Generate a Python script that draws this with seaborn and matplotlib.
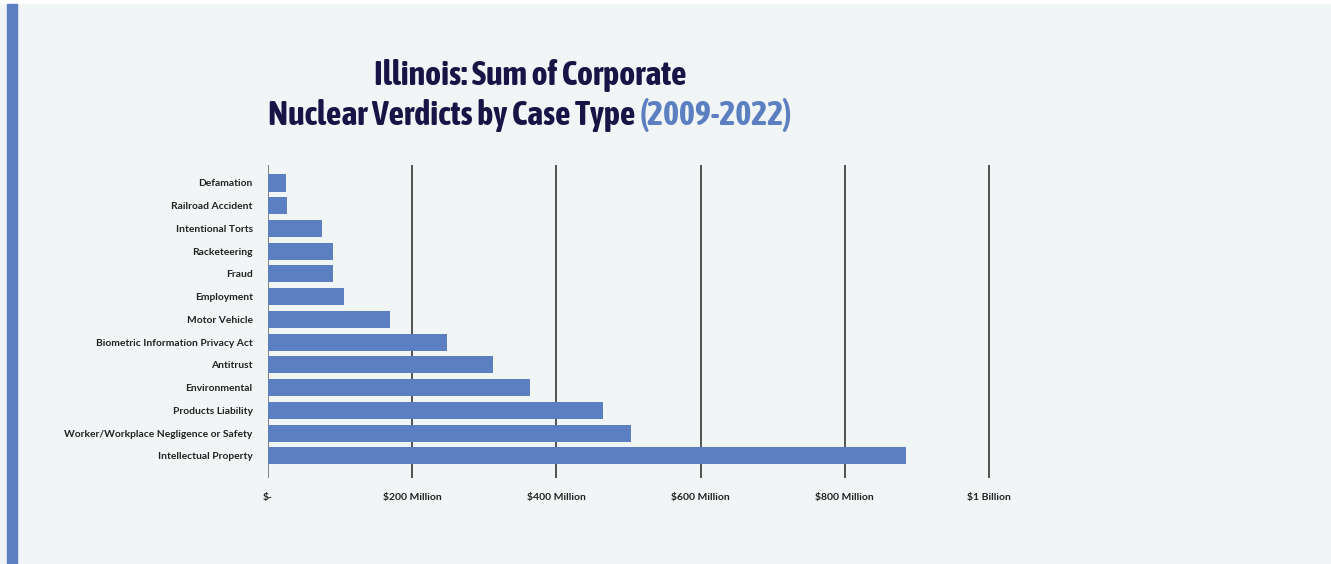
import matplotlib
matplotlib.use("Agg")
import matplotlib.pyplot as plt
from matplotlib.patches import Rectangle
from matplotlib import font_manager
import seaborn as sns
import pandas as pd

categories = [
    "Defamation", "Railroad Accident", "Intentional Torts", "Racketeering",
    "Fraud", "Employment", "Motor Vehicle", "Biometric Information Privacy Act",
    "Antitrust", "Environmental", "Products Liability",
    "Worker/Workplace Negligence or Safety", "Intellectual Property",
]
verdicts_millions = [25, 26, 75, 90, 90, 105, 169, 248, 312, 363, 465, 503, 885]
tick_values = [0, 200, 400, 600, 800, 1000]
tick_labels = ["$-", "$200 Million", "$400 Million", "$600 Million", "$800 Million", "$1 Billion"]

BG = "#f1f5f6"
BLUE = "#5b7fc1"
NAVY = "#1a1446"

sns.set_theme(style="white")
plt.rcParams["font.family"] = ["Lato", "DejaVu Sans"]

# prefer a condensed face for the headline
condensed = [f for f in font_manager.fontManager.ttflist
             if f.stretch in ("condensed", "semi-condensed", "extra-condensed", "ultra-condensed")
             or "Narrow" in f.name or "Condensed" in f.name]
if condensed:
    pick = sorted(condensed, key=lambda f: (f.weight not in ("bold", 700), f.name))[0]
    title_font = dict(family=pick.name, stretch=pick.stretch)
else:
    title_font = dict(family="Roboto")

W, H = 1331, 564
fig = plt.figure(figsize=(W / 100, H / 100), dpi=100)
fig.patch.set_facecolor("white")

# page background, white top strip, blue accent bar on the left
fig.patches.append(Rectangle((0, 0), 1, 1 - 4 / H, transform=fig.transFigure, color=BG, zorder=-10))
fig.patches.append(Rectangle((7 / W, 0), 10 / W, 1 - 4 / H, transform=fig.transFigure, color=BLUE, zorder=-9))

px_per_unit = (989 - 268) / 1000
x_right = 1010
ax = fig.add_axes([268 / W, 1 - 478 / H, x_right * px_per_unit / W, (478 - 165) / H])
ax.set_facecolor("none")

df = pd.DataFrame({"case": categories, "value": verdicts_millions})
sns.barplot(data=df, x="value", y="case", orient="h", color=BLUE, saturation=1,
            width=0.75, linewidth=0, ax=ax, zorder=3)

ax.set_xlim(0, x_right)
ax.set_ylim(12.97, -0.79)
for v in tick_values:
    ax.axvline(v, color="#444444" if v else "#777777", lw=1.3, zorder=1)

for s in ax.spines.values():
    s.set_visible(False)

ax.set_xticks(tick_values)
ax.set_xticklabels(tick_labels, fontsize=7.5, fontweight="bold", color="#222222")
ax.tick_params(axis="x", length=0, pad=10.5)
ax.tick_params(axis="y", length=0, pad=11)
for lbl in ax.get_yticklabels():
    lbl.set_fontsize(7.4)
    lbl.set_fontweight("bold")
    lbl.set_color("#222222")
ax.set_xlabel("")
ax.set_ylabel("")

# two-line title, second line with a coloured year range
center_x = 530 / W
title_size = 24.5
fig.text(center_x, 1 - 75 / H, "Illinois: Sum of Corporate", ha="center", va="center",
         fontsize=title_size, fontweight="bold", color=NAVY, **title_font)
renderer = fig.canvas.get_renderer()
part1 = fig.text(0, 1 - 115 / H, "Nuclear Verdicts by Case Type ", ha="left", va="center",
                 fontsize=title_size, fontweight="bold", color=NAVY, **title_font)
part2 = fig.text(0, 1 - 115 / H, "(2009-2022)", ha="left", va="center",
                 fontsize=title_size, fontweight="bold", color=BLUE, **title_font)
w1 = part1.get_window_extent(renderer).width / W
w2 = part2.get_window_extent(renderer).width / W
start = center_x - (w1 + w2) / 2
part1.set_x(start)
part2.set_x(start + w1)

fig.savefig("out.png", dpi=100, facecolor=fig.get_facecolor())
